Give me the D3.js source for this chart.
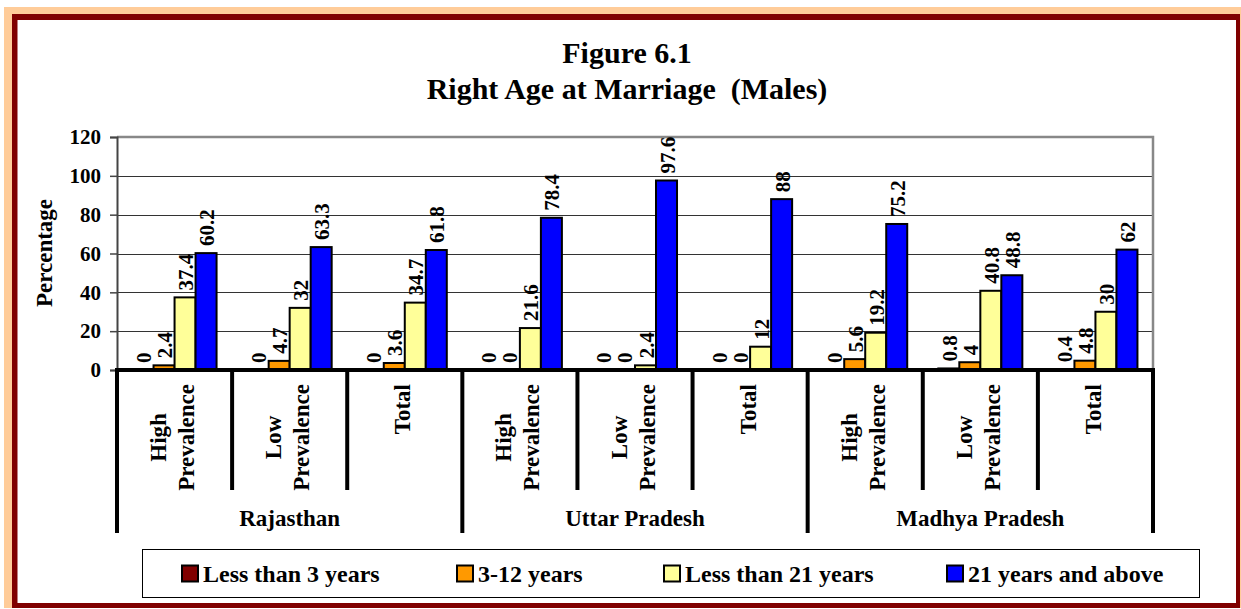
<!DOCTYPE html>
<html>
<head>
<meta charset="utf-8">
<script src="https://cdn.jsdelivr.net/npm/d3@7"></script>
<style>
  body { margin: 0; background: #fff; }
  text { font-family: "Liberation Serif", "Times New Roman", serif; font-weight: bold; fill: #000; }
</style>
</head>
<body>
<div id="chart"></div>
<script>
// data
const states = ["Rajasthan", "Uttar Pradesh", "Madhya Pradesh"]
const subgroups = ["High\nPrevalence", "Low\nPrevalence", "Total"]
const categories = states.flatMap(s => subgroups.map(g => s + "|" + g))
const seriesNames = ["Less than 3 years", "3-12 years", "Less than 21 years", "21 years and above"]
const seriesColors = ["#800000", "#FF9900", "#FFFF99", "#0000FF"]
const lessThan3 = [0, 0, 0, 0, 0, 0, 0, 0.8, 0.4]
const from3to12 = [2.4, 4.7, 3.6, 0, 0, 0, 5.6, 4, 4.8]
const lessThan21 = [37.4, 32, 34.7, 21.6, 2.4, 12, 19.2, 40.8, 30]
const above21 = [60.2, 63.3, 61.8, 78.4, 97.6, 88, 75.2, 48.8, 62]
const seriesValues = [lessThan3, from3to12, lessThan21, above21]
const yTicks = [0, 20, 40, 60, 80, 100, 120]

const W = 1241, H = 609
const plot = { left: 117, right: 1153, top: 137, bottom: 370 }
const font = "Liberation Serif, Times New Roman, serif"

const svg = d3.select("#chart").append("svg")
    .attr("width", W)
    .attr("height", H)

// frame: peach shadow + dark red border
svg.append("rect").attr("x", 4).attr("y", 7).attr("width", W - 4).attr("height", 601).attr("fill", "#FFCC99")
svg.append("rect").attr("x", 12).attr("y", 14).attr("width", 1228).attr("height", 594).attr("fill", "#800000")
svg.append("rect").attr("x", 17.5).attr("y", 20).attr("width", 1218.5).attr("height", 583).attr("fill", "#fff")

// title
svg.append("text").attr("x", 627).attr("y", 63).attr("text-anchor", "middle")
    .style("font-size", "30px").text("Figure 6.1")
svg.append("text").attr("x", 627).attr("y", 99).attr("text-anchor", "middle")
    .style("font-size", "30px").style("white-space", "pre").text("Right Age at Marriage  (Males)")

const y = d3.scaleLinear().domain([0, 120]).range([plot.bottom, plot.top])
const x = d3.scaleBand().domain(categories).range([plot.left, plot.right]).padding(0)
const xs = d3.scaleBand().domain(seriesNames).range([0, x.bandwidth()]).paddingInner(0).paddingOuter(0.74)

// gridlines
svg.append("g").selectAll("line")
    .data(yTicks.filter(t => t > 0 && t < 120))
    .join("line")
    .attr("x1", plot.left).attr("x2", plot.right)
    .attr("y1", d => Math.round(y(d)) + 0.5).attr("y2", d => Math.round(y(d)) + 0.5)
    .attr("stroke", "#333").attr("stroke-width", 1)

// plot border top/right (grey)
svg.append("path")
    .attr("d", `M${plot.left},${plot.top}H${plot.right}V${plot.bottom}`)
    .attr("fill", "none").attr("stroke", "#888").attr("stroke-width", 2.5)

// y axis
const yAxis = svg.append("g")
    .attr("transform", `translate(${plot.left},0)`)
    .call(d3.axisLeft(y).tickValues(yTicks).tickSize(7).tickPadding(9))
yAxis.select(".domain").attr("stroke", "#444").attr("stroke-width", 2)
yAxis.selectAll(".tick line").attr("stroke", "#444").attr("stroke-width", 1.5)
yAxis.selectAll(".tick text")
    .style("font-family", font).style("font-weight", "bold").style("font-size", "21px").attr("fill", "#000")

svg.append("text")
    .attr("transform", `translate(44,253) rotate(-90)`)
    .attr("text-anchor", "middle").attr("dominant-baseline", "central")
    .style("font-size", "23px").text("Percentage")

// bars
const barG = svg.append("g")
seriesValues.forEach((vals, si) => {
    barG.append("g").selectAll("rect")
        .data(vals.map((v, i) => ({ v, cat: categories[i] })))
        .join("rect")
        .attr("x", d => x(d.cat) + xs(seriesNames[si]))
        .attr("width", xs.bandwidth())
        .attr("y", d => y(d.v))
        .attr("height", d => y(0) - y(d.v))
        .attr("fill", seriesColors[si])
        .attr("stroke", d => d.v > 0 ? "#000" : "none")
        .attr("stroke-width", 2)

    barG.append("g").selectAll("text")
        .data(vals.map((v, i) => ({ v, cat: categories[i] })))
        .join("text")
        .attr("transform", d => `translate(${x(d.cat) + xs(seriesNames[si]) + xs.bandwidth() / 2 + 1},${y(d.v) - 7}) rotate(-90)`)
        .attr("dominant-baseline", "central")
        .style("font-size", "21px")
        .text(d => d.v)
})

// category axis
svg.append("line")
    .attr("x1", plot.left - 2).attr("x2", plot.right + 2)
    .attr("y1", plot.bottom).attr("y2", plot.bottom)
    .attr("stroke", "#000").attr("stroke-width", 4)

const sepG = svg.append("g")
d3.range(categories.length + 1).forEach(i => {
    const xx = i < categories.length ? x(categories[i]) : plot.right
    const isGroup = i % 3 === 0
    sepG.append("line")
        .attr("x1", xx).attr("x2", xx)
        .attr("y1", plot.bottom).attr("y2", isGroup ? 533 : 490)
        .attr("stroke", "#000").attr("stroke-width", 4)
})

// category labels (rotated, top aligned at 384)
categories.forEach(cat => {
    const lines = cat.split("|")[1].split("\n")
    const cx = x(cat) + x.bandwidth() / 2 - 2
    const g = svg.append("g")
    const texts = lines.map((ln, li) => g.append("text")
        .attr("dominant-baseline", "central")
        .attr("text-anchor", "middle")
        .style("font-size", "23px")
        .text(ln))
    const maxLen = d3.max(texts, t => t.node().getComputedTextLength())
    const cy = 384 + maxLen / 2
    texts.forEach((t, li) => {
        const off = (li - (lines.length - 1) / 2) * 28
        t.attr("transform", `translate(${cx + off},${cy}) rotate(-90)`)
    })
})

// state labels
states.forEach((s, i) => {
    const x0 = x(categories[i * 3])
    const x1 = i * 3 + 3 < categories.length ? x(categories[i * 3 + 3]) : plot.right
    svg.append("text")
        .attr("x", (x0 + x1) / 2).attr("y", 526)
        .attr("text-anchor", "middle")
        .style("font-size", "23px")
        .text(s)
})

// legend
svg.append("rect").attr("x", 142.5).attr("y", 549.5).attr("width", 1057).attr("height", 48)
    .attr("fill", "#fff").attr("stroke", "#000").attr("stroke-width", 1)
const legendX = [182, 457, 664, 947]
seriesNames.forEach((n, i) => {
    svg.append("rect").attr("x", legendX[i]).attr("y", 565.5).attr("width", 16).attr("height", 16)
        .attr("fill", seriesColors[i]).attr("stroke", "#000").attr("stroke-width", 2)
    svg.append("text").attr("x", legendX[i] + 21).attr("y", 582)
        .style("font-size", "24px").text(n)
})
</script>
</body>
</html>
